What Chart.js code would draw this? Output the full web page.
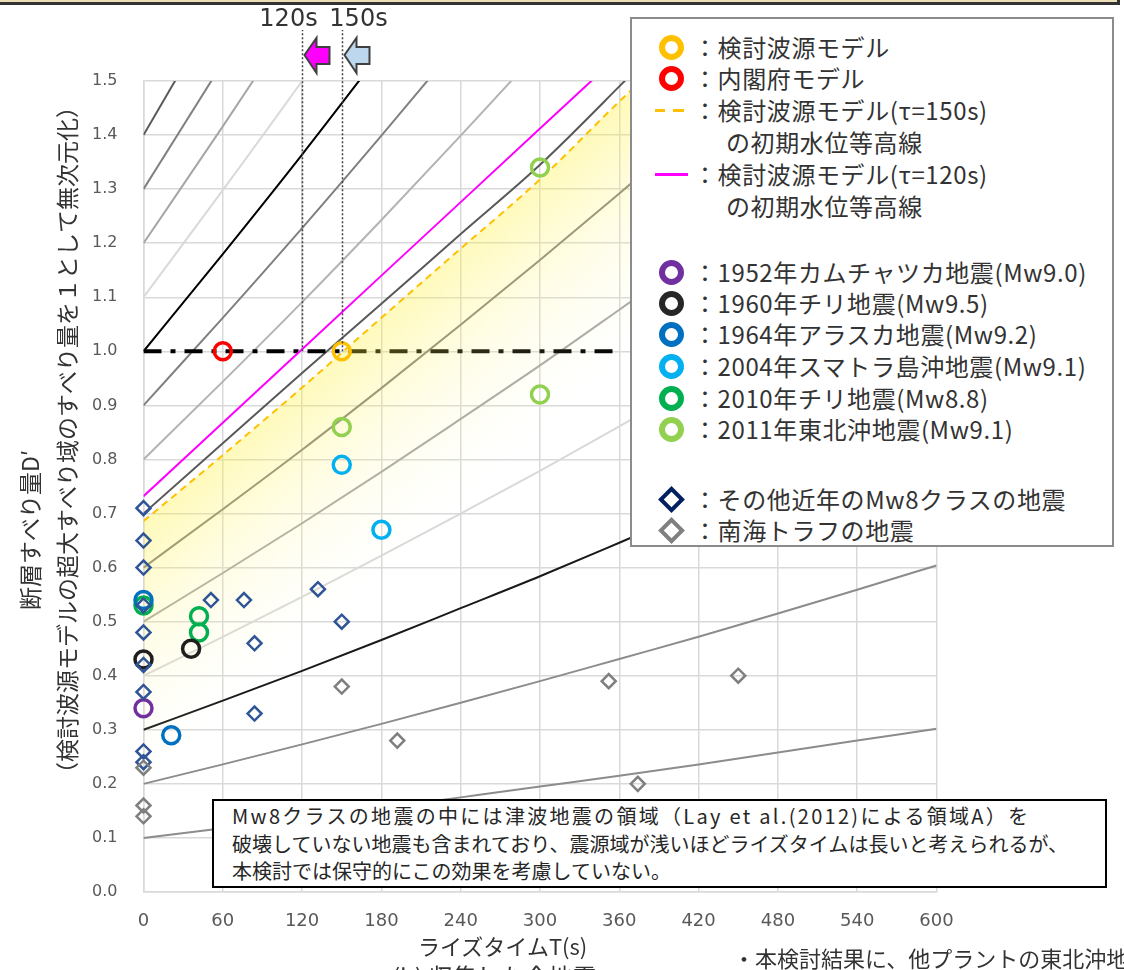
<!DOCTYPE html>
<html lang="ja">
<head>
<meta charset="utf-8">
<title>ライズタイムと断層すべり量</title>
<script src="https://cdn.jsdelivr.net/npm/chart.js@4.4.1/dist/chart.umd.min.js"></script>
<style>
  html, body { margin:0; padding:0; background:#fff; }
  body { width:1124px; height:970px; overflow:hidden; position:relative; font-family:"Noto Sans CJK JP", sans-serif; color:#333; }
  canvas { position:absolute; left:0; top:0; }
  .abs { position:absolute; white-space:nowrap; }
  #topFrame { left:-5px; top:-10px; width:1125px; height:15px; box-sizing:border-box; background:#ecdfb8; border-right:3px solid #333; border-bottom:3px solid #333; }
  #legend { left:630px; top:17px; width:484px; height:530px; box-sizing:border-box; border:2px solid #8c8c8c; background:#fff; }
  .lg { position:absolute; font-size:24px; line-height:30px; height:30px; white-space:nowrap; color:#333; letter-spacing:0.6px; }
  .ring { position:absolute; width:13px; height:13px; border:6px solid; border-radius:50%; }
  .dia { position:absolute; width:11px; height:11px; border:4px solid; transform:rotate(45deg); background:#fff; }
  .bar { position:absolute; height:3px; }
  #note { left:212px; top:799px; width:895px; height:89px; box-sizing:border-box; border:2px solid #000; background:#fff; padding:1px 0 0 18px; font-size:20px; line-height:27.5px; color:#262626; }
  #note .l1 { letter-spacing:2.3px; }
</style>
</head>
<body>
<canvas id="chart" width="1124" height="970"></canvas>
<div id="topFrame" class="abs"></div>
<div id="legend" class="abs"></div>
<div id="note" class="abs"><span class="l1">Mw8クラスの地震の中には津波地震の領域（Lay et al.(2012)による領域A）を</span><br>破壊していない地震も含まれており、震源域が浅いほどライズタイムは長いと考えられるが、<br>本検討では保守的にこの効果を考慮していない。</div>
<div class="abs" style="left:418px; top:929px; font-size:22px; color:#333;">ライズタイムT(s)</div>
<div class="abs" style="left:392px; top:958px; font-size:24px; color:#333;">(b) 収集した全地震</div>
<div class="abs" style="left:733px; top:941px; font-size:22px; color:#333;">・本検討結果に、他プラントの東北沖地震</div>
<script>
// ライズタイム T(s) の読み取り点
var riseT = [0, 60, 120, 180, 240, 300, 360, 420, 480, 540, 600];

// 等高線 (T=0 での D' = 0.1 ～ 1.4)
var c01 = [0.10, 0.118, 0.136, 0.155, 0.175, 0.195, 0.215, 0.236, 0.258, 0.280, 0.302];
var c02 = [0.20, 0.236, 0.273, 0.311, 0.350, 0.390, 0.431, 0.472, 0.515, 0.559, 0.604];
var c03 = [0.30, 0.354, 0.409, 0.466, 0.525, 0.584, 0.646, 0.709, 0.773, 0.839, 0.906];
var c04 = [0.40, 0.472, 0.546, 0.622, 0.700, 0.779, 0.861, 0.945, 1.030, 1.118, 1.208];
var c05 = [0.50, 0.590, 0.682, 0.777, 0.875, 0.974, 1.077, 1.181, 1.288, 1.398, 1.510];
var c06 = [0.60, 0.708, 0.818, 0.932, 1.049, 1.169, 1.292, 1.417, 1.546];
var c07 = [0.70, 0.830, 0.960, 1.088, 1.217, 1.345, 1.490, 1.640];
var c08 = [0.80, 0.944, 1.091, 1.243, 1.399, 1.558];
var c09 = [0.90, 1.062, 1.228, 1.399, 1.574];
var c10 = [1.00, 1.180, 1.364, 1.554];
var c11 = [1.10, 1.298, 1.500, 1.709];
var c12 = [1.20, 1.416, 1.637];
var c13 = [1.30, 1.534];
var c14 = [1.40, 1.652];
var contourColors = ['#8c8c8c', '#8c8c8c', '#1a1a1a', '#d9d9d9', '#a6a6a6', '#7f7f7f', '#595959',
                     '#b3b3b3', '#808080', '#000000', '#d9d9d9', '#a6a6a6', '#808080', '#595959'];

// 検討波源モデルの初期水位等高線
var tau150 = [0.686, 0.808, 0.933, 1.062, 1.190, 1.318, 1.462, 1.600];
var tau120 = [0.732, 0.868, 1.004, 1.140, 1.276, 1.412, 1.548];
var tauRefs = [120, 150];

// D'=1.0 の一点鎖線
var refLineT = [0, 360];
var refLineD = [1.0, 1.0];

// 各地震 (T, D')
var kentoT = [150], kentoD = [1.00];
var naikakuT = [60], naikakuD = [1.00];
var eq1952T = [0], eq1952D = [0.34];
var eq1960T = [0, 36], eq1960D = [0.43, 0.45];
var eq1964T = [0, 21], eq1964D = [0.54, 0.29];
var eq2004T = [150, 180], eq2004D = [0.79, 0.67];
var eq2010T = [0, 42, 42], eq2010D = [0.53, 0.51, 0.48];
var eq2011T = [150, 300, 300], eq2011D = [0.86, 0.92, 1.34];
var otherT = [0, 0, 0, 0, 0, 0, 0, 0, 0, 51, 76, 84, 84, 132, 150];
var otherD = [0.71, 0.65, 0.60, 0.53, 0.48, 0.42, 0.37, 0.26, 0.24, 0.54, 0.54, 0.46, 0.33, 0.56, 0.50];
var nankaiT = [0, 0, 0, 150, 192, 352, 374, 450];
var nankaiD = [0.23, 0.16, 0.14, 0.38, 0.28, 0.39, 0.20, 0.40];

function pts(xs, ys) {
    return ys.map(function(v, i) { return {x: xs[i], y: v}; });
}

var datasets = [];

[c01, c02, c03, c04, c05, c06, c07, c08, c09, c10, c11, c12, c13, c14].forEach(function(vals, i) {
    datasets.push({
        type: 'line', data: pts(riseT, vals), borderColor: contourColors[i], borderWidth: 2,
        pointRadius: 0, cubicInterpolationMode: 'monotone', fill: false, order: 10
    });
});

datasets.push({
    type: 'line', data: pts(refLineT, refLineD), borderColor: '#000', borderWidth: 4,
    borderDash: [18, 9, 5, 9], pointRadius: 0, fill: false, order: 9
});

// 黄色のグラデーション (τ=150s 等高線の下側)
datasets.push({
    type: 'line', data: pts(riseT, tau150), borderWidth: 0, pointRadius: 0,
    cubicInterpolationMode: 'monotone', fill: 'origin', order: 8,
    backgroundColor: function(c) {
        var chart = c.chart;
        if (!chart.chartArea) return 'rgba(0,0,0,0)';
        var x0 = chart.scales.x.getPixelForValue(0);
        var y0 = chart.scales.y.getPixelForValue(tau150[0]);
        var g = chart.ctx.createLinearGradient(x0, y0, x0 + 130, y0 + 148);
        g.addColorStop(0, 'rgba(255,240,50,0.34)');
        g.addColorStop(0.4, 'rgba(255,244,110,0.2)');
        g.addColorStop(1, 'rgba(255,250,200,0)');
        return g;
    }
});

datasets.push({
    type: 'line', data: pts(riseT, tau150), borderColor: '#FFC000', borderWidth: 2,
    borderDash: [7, 5], pointRadius: 0, cubicInterpolationMode: 'monotone', fill: false, order: 7
});
datasets.push({
    type: 'line', data: pts(riseT, tau120), borderColor: '#FF00FF', borderWidth: 2,
    pointRadius: 0, fill: false, order: 7
});

function ringSet(xs, ys, color) {
    return {
        data: pts(xs, ys), pointStyle: 'circle', pointRadius: 8.5, pointBorderWidth: 3.5,
        pointBorderColor: color, pointBackgroundColor: 'rgba(0,0,0,0)', order: 3, clip: false
    };
}
datasets.push(ringSet(kentoT, kentoD, '#FFC000'));
datasets.push(ringSet(naikakuT, naikakuD, '#FF0000'));
datasets.push(ringSet(eq1952T, eq1952D, '#7030A0'));
datasets.push(ringSet(eq1960T, eq1960D, '#1f1f1f'));
datasets.push(ringSet(eq1964T, eq1964D, '#0070C0'));
datasets.push(ringSet(eq2004T, eq2004D, '#00B0F0'));
datasets.push(ringSet(eq2010T, eq2010D, '#00B050'));
datasets.push(ringSet(eq2011T, eq2011D, '#92D050'));

function diaSet(xs, ys, color) {
    return {
        data: pts(xs, ys), pointStyle: 'rectRot', pointRadius: 7, pointBorderWidth: 2.5,
        pointBorderColor: color, pointBackgroundColor: 'rgba(0,0,0,0)', order: 2, clip: false
    };
}
datasets.push(diaSet(nankaiT, nankaiD, '#7f7f7f'));
datasets.push(diaSet(otherT, otherD, '#2F5597'));

// 120s/150s の点線・矢印・軸タイトル
var overlay = {
    id: 'overlay',
    afterDraw: function(chart) {
        var ctx = chart.ctx, xs = chart.scales.x, ys = chart.scales.y;
        var arrowFill = ['#FF00FF', '#BDD7EE'];
        var labelShift = [-14, 16];
        ctx.save();
        tauRefs.forEach(function(tau, i) {
            var px = Math.round(xs.getPixelForValue(tau)) + 0.5;
            ctx.strokeStyle = '#404040';
            ctx.lineWidth = 1.5;
            ctx.setLineDash([2, 2]);
            ctx.beginPath();
            ctx.moveTo(px, ys.getPixelForValue(1.0));
            ctx.lineTo(px, 30);
            ctx.stroke();
            ctx.setLineDash([]);

            var t = px + 2;
            ctx.beginPath();
            ctx.moveTo(t, 55);
            ctx.lineTo(t + 12, 38);
            ctx.lineTo(t + 12, 47);
            ctx.lineTo(t + 25, 47);
            ctx.lineTo(t + 25, 64);
            ctx.lineTo(t + 12, 64);
            ctx.lineTo(t + 12, 73);
            ctx.closePath();
            ctx.fillStyle = arrowFill[i];
            ctx.fill();
            ctx.lineWidth = 2;
            ctx.strokeStyle = '#404040';
            ctx.stroke();

            ctx.fillStyle = '#333';
            ctx.font = '24px "DejaVu Sans"';
            ctx.textAlign = 'center';
            ctx.textBaseline = 'middle';
            ctx.fillText(tau + 's', px + labelShift[i], 20);
        });

        ctx.fillStyle = '#333';
        ctx.font = '23px "Noto Sans CJK JP"';
        ctx.textAlign = 'center';
        ctx.textBaseline = 'middle';
        ctx.translate(30, 530);
        ctx.rotate(-Math.PI / 2);
        ctx.fillText('断層すべり量D′', 0, 0);
        ctx.rotate(Math.PI / 2);
        ctx.translate(37, -90);
        ctx.rotate(-Math.PI / 2);
        ctx.fillText('（検討波源モデルの超大すべり域のすべり量を１として無次元化）', 0, 0);
        ctx.restore();
    }
};

Chart.defaults.font.family = '"DejaVu Sans", sans-serif';

var chart = new Chart(document.getElementById('chart').getContext('2d'), {
    type: 'scatter',
    data: { datasets: datasets },
    options: {
        responsive: false,
        animation: false,
        devicePixelRatio: 1,
        layout: { padding: { left: 0, top: 81, right: 187.5, bottom: 0 } },
        plugins: { legend: { display: false }, tooltip: { enabled: false } },
        scales: {
            x: {
                type: 'linear', min: 0, max: 600,
                afterFit: function(s) { s.height = 78; },
                ticks: { stepSize: 60, color: '#595959', font: { size: 18 }, padding: 19 },
                grid: { color: '#d9d9d9', lineWidth: 1.5, drawTicks: false },
                border: { color: '#d9d9d9', width: 1.5 }
            },
            y: {
                type: 'linear', min: 0, max: 1.5,
                afterFit: function(s) { s.width = 143.5; },
                ticks: {
                    stepSize: 0.1, color: '#595959', font: { size: 16 }, padding: 26,
                    callback: function(v) { return Number(v).toFixed(1); }
                },
                grid: { color: '#d9d9d9', lineWidth: 1.5, drawTicks: false },
                border: { color: '#d9d9d9', width: 1.5 }
            }
        }
    },
    plugins: [overlay]
});

// 凡例 (位置は参照図に合わせる)
var legendRows = [
    ['ring', '#FFC000', '：検討波源モデル', 47],
    ['ring', '#FF0000', '：内閣府モデル', 78],
    ['dash', '#FFC000', '：検討波源モデル(τ=150s)', 110],
    ['none', '', 'の初期水位等高線', 142],
    ['line', '#FF00FF', '：検討波源モデル(τ=120s)', 174],
    ['none', '', 'の初期水位等高線', 206],
    ['ring', '#7030A0', '：1952年カムチャツカ地震(Mw9.0)', 272],
    ['ring', '#262626', '：1960年チリ地震(Mw9.5)', 303],
    ['ring', '#0070C0', '：1964年アラスカ地震(Mw9.2)', 334],
    ['ring', '#00B0F0', '：2004年スマトラ島沖地震(Mw9.1)', 366],
    ['ring', '#00B050', '：2010年チリ地震(Mw8.8)', 398],
    ['ring', '#92D050', '：2011年東北沖地震(Mw9.1)', 429],
    ['dia', '#002060', '：その他近年のMw8クラスの地震', 499],
    ['dia', '#808080', '：南海トラフの地震', 530]
];
var lg = document.getElementById('legend');
var ox = 632, oy = 19;
legendRows.forEach(function(r) {
    var kind = r[0], color = r[1], yc = r[3] - oy;
    var m;
    if (kind === 'ring') {
        m = document.createElement('div');
        m.className = 'ring';
        m.style.borderColor = color;
        m.style.left = (671 - 12.5 - ox) + 'px';
        m.style.top = (yc - 12.5) + 'px';
        lg.appendChild(m);
    } else if (kind === 'dia') {
        m = document.createElement('div');
        m.className = 'dia';
        m.style.borderColor = color;
        m.style.left = (671 - 9.5 - ox) + 'px';
        m.style.top = (yc - 9.5) + 'px';
        lg.appendChild(m);
    } else if (kind === 'dash') {
        [[655, 10], [673, 11]].forEach(function(d) {
            var b = document.createElement('div');
            b.className = 'bar';
            b.style.background = color;
            b.style.left = (d[0] - ox) + 'px';
            b.style.width = d[1] + 'px';
            b.style.top = (yc - 1.5) + 'px';
            lg.appendChild(b);
        });
    } else if (kind === 'line') {
        m = document.createElement('div');
        m.className = 'bar';
        m.style.background = color;
        m.style.left = (655 - ox) + 'px';
        m.style.width = '33px';
        m.style.top = (yc - 1.5) + 'px';
        lg.appendChild(m);
    }
    var t = document.createElement('div');
    t.className = 'lg';
    t.textContent = r[2];
    t.style.left = ((kind === 'none' ? 726 : 693) - ox) + 'px';
    t.style.top = (yc - 15) + 'px';
    lg.appendChild(t);
});
</script>
</body>
</html>
